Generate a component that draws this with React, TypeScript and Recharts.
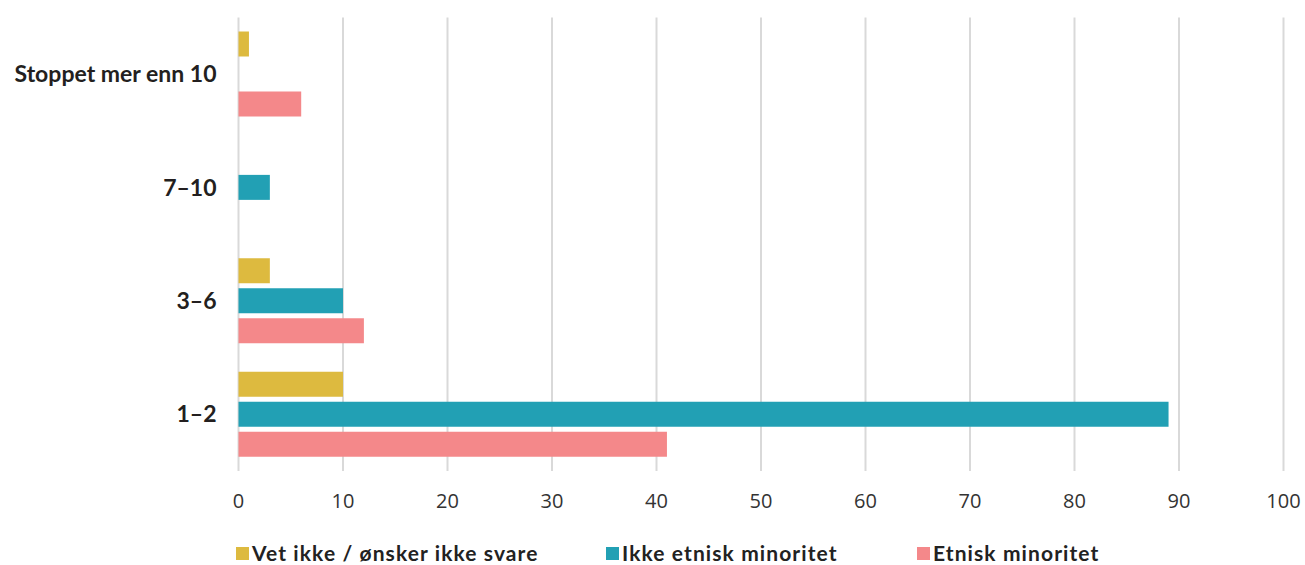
import React from "react";
import { BarChart, Bar, XAxis, YAxis, CartesianGrid, Legend } from "recharts";

const categories = ["Stoppet mer enn 10", "7–10", "3–6", "1–2"];
const vetIkke = [1, 0, 3, 10];
const ikkeEtnisk = [0, 3, 10, 89];
const etnisk = [6, 0, 12, 41];
const xTicks = [0, 10, 20, 30, 40, 50, 60, 70, 80, 90, 100];

const seriesNames = ["Vet ikke / ønsker ikke svare", "Ikke etnisk minoritet", "Etnisk minoritet"];
const seriesColors = ["#DDBA3F", "#22A0B4", "#F4888A"];
const seriesKeys = ["vet", "ikke", "etn"];
const legendItemWidths = [370, 311, 200];

const data = categories.map((c, i) => ({
  name: c,
  vet: vetIkke[i],
  ikke: ikkeEtnisk[i],
  etn: etnisk[i],
}));

const LegendContent = () => (
  <div
    style={{
      height: 30,
      paddingTop: 6,
      boxSizing: "border-box",
      display: "flex",
      alignItems: "center",
      paddingLeft: 236,
      fontFamily: "Lato, sans-serif",
      fontWeight: 700,
      fontSize: 21,
      letterSpacing: 1.1,
      color: "#222",
      whiteSpace: "nowrap",
    }}
  >
    {seriesNames.map((n, i) => (
      <div key={n} style={{ display: "flex", alignItems: "center", width: legendItemWidths[i] }}>
        <span style={{ width: 13, height: 13, background: seriesColors[i], display: "inline-block", marginRight: 3 }} />
        <span style={{ lineHeight: "24px" }}>{n}</span>
      </div>
    ))}
  </div>
);

export default function App() {
  return (
    <div style={{ position: "absolute", left: 0, top: 0, width: 1305, height: 565, background: "#fff" }}>
      <BarChart
        width={1305}
        height={565}
        data={data}
        layout="vertical"
        margin={{ top: 17.5, right: 21.5, bottom: 0, left: 0 }}
        barSize={25}
        barGap={5}
      >
        <CartesianGrid horizontal={false} stroke="#d9d9d9" strokeWidth={2} />
        <XAxis
          type="number"
          domain={[0, 100]}
          ticks={xTicks}
          axisLine={false}
          tickLine={false}
          tickSize={0}
          tickMargin={23}
          height={64}
          tick={{ fontFamily: "Open Sans, sans-serif", fontSize: 20, fill: "#333" }}
          interval={0}
        />
        <YAxis
          type="category"
          dataKey="name"
          width={238.5}
          axisLine={false}
          tickLine={false}
          tickSize={0}
          tickMargin={22}
          tick={{ fontFamily: "Lato, sans-serif", fontWeight: 700, fontSize: 23, fill: "#231f20" }}
          interval={0}
        />
        <Legend verticalAlign="bottom" content={<LegendContent />} />
        {seriesKeys.map((k, i) => (
          <Bar key={k} dataKey={k} name={seriesNames[i]} fill={seriesColors[i]} isAnimationActive={false} />
        ))}
      </BarChart>
    </div>
  );
}
